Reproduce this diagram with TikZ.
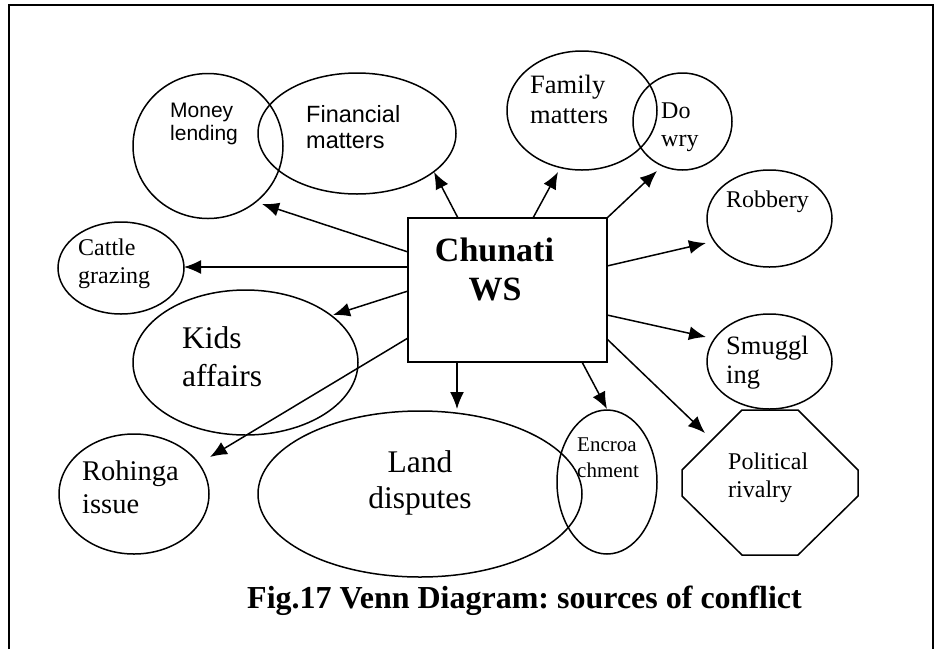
\documentclass[tikz,border=0pt]{standalone}
\usepackage{fontspec}
\setmainfont{Liberation Serif}
\newfontfamily\arialfont{Liberation Sans}
\usetikzlibrary{shapes.geometric,arrows.meta,calc}
\newcommand{\setfs}[1]{\fontsize{#1}{#1}\selectfont}
\frenchspacing
\begin{document}
\begin{tikzpicture}[x=1pt,y=-1pt,
  shp/.style={draw, line width=1.5pt, ellipse, inner sep=0, outer sep=0},
  arr/.style={line width=1.5pt, -{Latex[length=17pt,width=14pt]}},
  lbl/.style={inner sep=0, anchor=base west},
  clbl/.style={inner sep=0, anchor=base},
]
\useasboundingbox (0,0) rectangle (935,649);
% frame
\draw[line width=2pt] (8.5,649) -- (8.5,5) -- (932.5,5) -- (932.5,649);

% shapes
\node[shp, minimum width=150pt, minimum height=145pt] (ml) at (208,146) {};
\node[shp, minimum width=198pt, minimum height=121pt] (fin) at (357,133.5) {};
\node[shp, minimum width=150pt, minimum height=119pt] (fam) at (582,110.5) {};
\node[shp, minimum width=99pt, minimum height=97pt] (dow) at (682.5,121.5) {};
\node[shp, minimum width=125pt, minimum height=97pt] (rob) at (769.5,218.5) {};
\node[shp, minimum width=125pt, minimum height=95pt] (smg) at (769.5,361.5) {};
\node[shp, minimum width=126pt, minimum height=92pt] (cat) at (121,268) {};
\node[shp, minimum width=225pt, minimum height=145pt] (kid) at (245.5,362.5) {};
\node[shp, minimum width=150pt, minimum height=120pt] (roh) at (134,494) {};
\node[shp, minimum width=324pt, minimum height=166pt] (lnd) at (420,494) {};
\node[shp, minimum width=100pt, minimum height=144pt] (enc) at (607,482) {};
\node[draw, line width=1.5pt, rectangle, inner sep=0, outer sep=0,
      minimum width=199pt, minimum height=144pt] (box) at (507.5,290) {};
% octagon
\coordinate (pc) at (770,482.5);
\draw[line width=1.5pt] ($(pc)+(-28,-72.5)$) -- ($(pc)+(28,-72.5)$) -- ($(pc)+(88,-12.5)$)
  -- ($(pc)+(88,13.5)$) -- ($(pc)+(28,72.5)$) -- ($(pc)+(-28,72.5)$)
  -- ($(pc)+(-88,13.5)$) -- ($(pc)+(-88,-12.5)$) -- cycle;

% labels
\node[lbl, font=\arialfont\setfs{21}] (ml1) at (170,117) {Money};
\node[lbl, font=\arialfont\setfs{21}] (ml2) at (170,140) {lending};
\node[lbl, font=\arialfont\setfs{23.5}] (fin1) at (306,122) {Financial};
\node[lbl, font=\arialfont\setfs{23.5}] (fin2) at (306,148) {matters};
\node[lbl, font=\setfs{26.5}] (fam1) at (530,93) {Family};
\node[lbl, font=\setfs{26.5}] (fam2) at (530,123) {matters};
\node[lbl, font=\setfs{24}] (dow1) at (661,118) {Do};
\node[lbl, font=\setfs{24}] (dow2) at (661,146) {wry};
\node[lbl, font=\setfs{24}] (rob1) at (726,207) {Robbery};
\node[lbl, font=\setfs{26.5}] (smg1) at (726,354) {Smuggl};
\node[lbl, font=\setfs{26.5}] (smg2) at (726,383) {ing};
\node[lbl, font=\setfs{24}] (cat1) at (78,255) {Cattle};
\node[lbl, font=\setfs{24}] (cat2) at (78,283) {grazing};
\node[lbl, font=\setfs{31.5}] (kid1) at (182,348) {Kids};
\node[lbl, font=\setfs{31.5}] (kid2) at (182,386) {affairs};
\node[lbl, font=\setfs{28.5}] (roh1) at (82,480) {Rohinga};
\node[lbl, font=\setfs{28.5}] (roh2) at (82,513) {issue};
\node[clbl, font=\setfs{31.5}] (lnd1) at (420,472) {Land};
\node[clbl, font=\setfs{31.5}] (lnd2) at (420,508) {disputes};
\node[lbl, font=\setfs{21}] (enc1) at (577,451) {Encroa};
\node[lbl, font=\setfs{21}] (enc2) at (577,477) {chment};
\node[lbl, font=\setfs{24}] (pol1) at (728,469) {Political};
\node[lbl, font=\setfs{24}] (pol2) at (728,497) {rivalry};
\node[clbl, font=\bfseries\setfs{34}] (ch1) at (494.5,261) {Chunati};
\node[clbl, font=\bfseries\setfs{34}] (ch2) at (495,300) {WS};
\node[lbl, font=\bfseries\setfs{32}] (cap) at (247,608) {Fig.17 Venn Diagram: sources of conflict};

% arrow tips
\coordinate (tml) at (262,204);
\coordinate (tcat) at (184,267);
\coordinate (tkid) at (333,315);
\coordinate (troh) at (210,457);
\coordinate (tlnd) at (457,409);
\coordinate (tenc) at (607,409);
\coordinate (tpol) at (705,433);
\coordinate (tsmg) at (706,337);
\coordinate (trob) at (706,243);
\coordinate (tdow) at (657,171);
\coordinate (tfam) at (558,172);
\coordinate (tfin) at (434,172);

% arrows
\draw[arr] ([yshift=-34pt]box.north west) -- (tml);
\draw[arr] ([yshift=-49pt]box.north west) -- (tcat);
\draw[arr] ([yshift=-73pt]box.north west) -- (tkid);
\draw[arr] ([yshift=-120pt]box.north west) -- (troh);
\draw[arr] ([xshift=49pt]box.south west) -- (tlnd);
\draw[arr] ([xshift=174pt]box.south west) -- (tenc);
\draw[arr] ([yshift=-121pt]box.north east) -- (tpol);
\draw[arr] ([yshift=-97pt]box.north east) -- (tsmg);
\draw[arr] ([yshift=-48pt]box.north east) -- (trob);
\draw[arr] (box.north east) -- (tdow);
\draw[arr] ([xshift=125pt]box.north west) -- (tfam);
\draw[arr] ([xshift=50pt]box.north west) -- (tfin);
\end{tikzpicture}
\end{document}
